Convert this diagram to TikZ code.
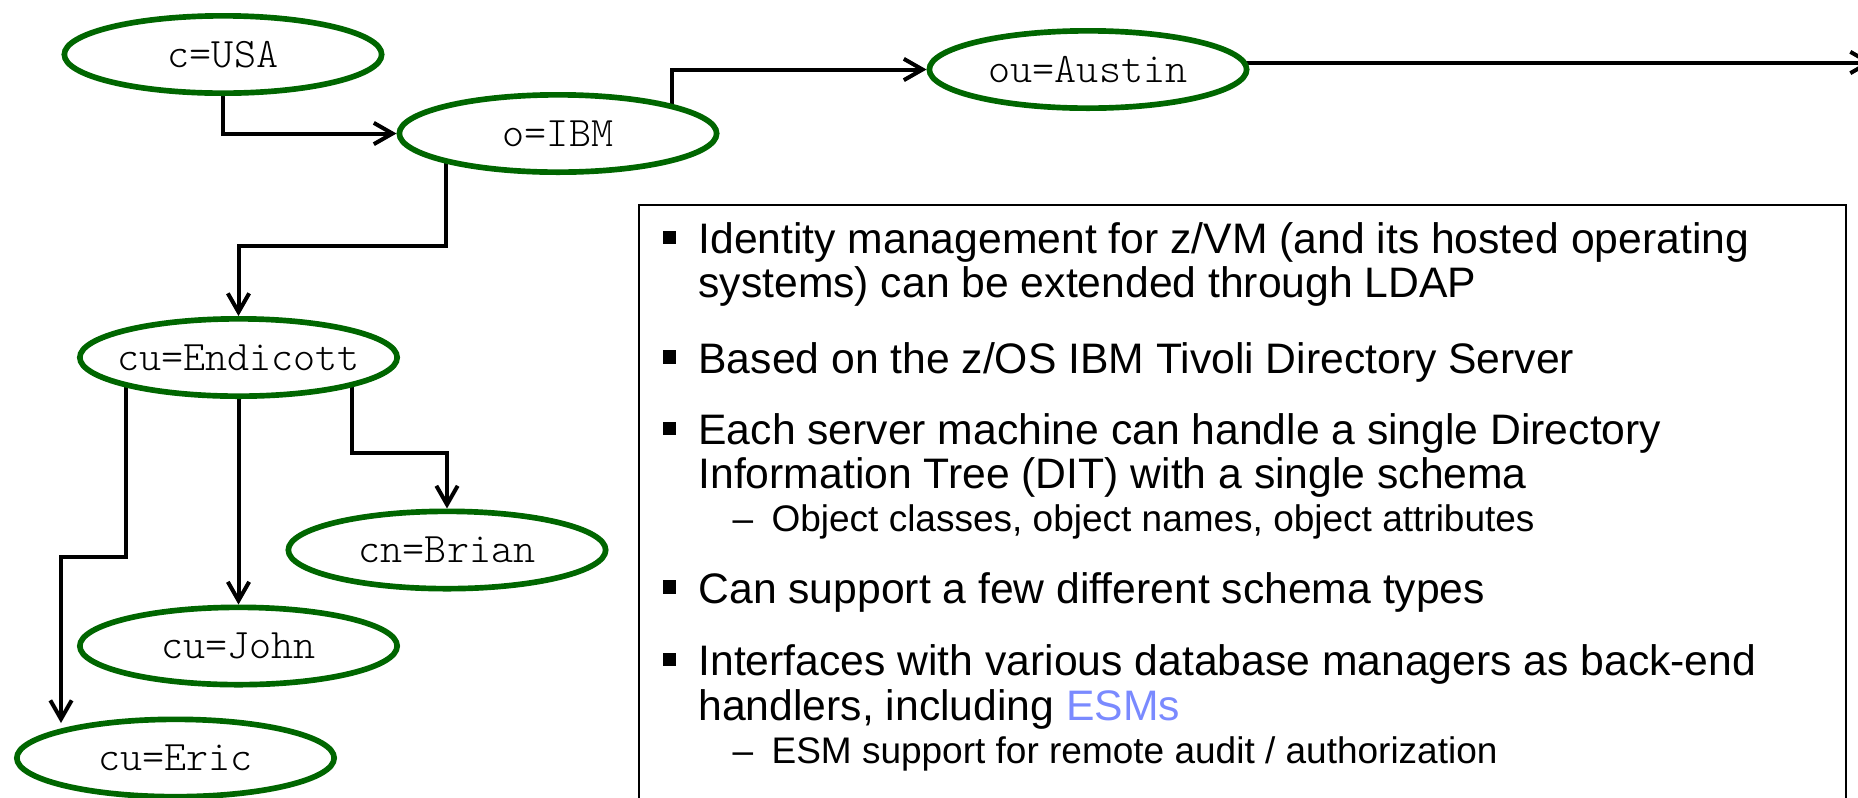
\documentclass[tikz,border=0pt]{standalone}
\usepackage{fontspec}
\setmainfont{Liberation Sans}
\newfontfamily\dnfont{Latin Modern Mono Light}
\usetikzlibrary{arrows.meta,calc,backgrounds,shapes.geometric}

\definecolor{dngreen}{RGB}{0,102,0}
\definecolor{esmblue}{RGB}{122,138,255}

\tikzset{every picture/.style={line width=0.75pt}}
\tikzset{
  dn/.style={ellipse, draw=dngreen, line width=4.25pt, fill=white, minimum width=238pt, minimum height=58pt, inner ysep=0pt, inner xsep=-40pt, font=\dnfont\fontsize{31.5}{33}\selectfont},
  link/.style={line width=3pt, -{Straight Barb[length=14pt,width=16pt]}},
  bul/.style={fill=black, inner sep=0pt, minimum size=10pt},
  item/.style={anchor=base west, inner sep=0pt, font=\fontsize{32}{38}\selectfont},
  subitem/.style={anchor=base west, inner sep=0pt, font=\fontsize{27.75}{33}\selectfont},
}

\begin{document}
\begin{tikzpicture}[x=0.75pt,y=0.75pt,yscale=-1,xscale=1]
\useasboundingbox (0,0) rectangle (1858,797);

%Directory entries
\node [dn] (usa) at (223,54.5) {c=USA};
\node [dn] (ibm) at (558,133.5) {o=IBM};
\node [dn] (aus) at (1088,69.5) {ou=Austin};
\node [dn] (endi) at (238.5,357.5) {cu=Endicott};
\node [dn] (brian) at (447,550) {cn=Brian};
\node [dn] (john) at (238.5,646) {cu=John};
\node [dn] (eric) at (175.5,758) {cu=Eric};
\coordinate (aout) at (1873,62.5);

%Connectors
\begin{scope}[on background layer]
\draw [link] (usa.south) |- (ibm.west);
\draw [link] ($(ibm)+(114,0)$) |- (aus.west);
\draw [link] ($(aus)+(0,-7)$) -- (aout);
\draw [link] ($(ibm)+(-112,0)$) -- ++(0,112.5) -| (endi.north);
\draw [link] ($(endi)+(-112.5,0)$) -- ++(0,199.5) -| ($(eric)+(-114.5,-35)$);
\draw [link] (endi.south) -- (john.north);
\draw [link] ($(endi)+(113.5,0)$) -- ++(0,95.5) -| (brian.north);
\end{scope}

%Text box
\draw [line width=1.5pt] (639,205) rectangle (1846,815);

%Bullets
\node [bul] (q1) at (669.5,237.5) {};
\node [bul] (q2) at (669.5,357) {};
\node [bul] (q3) at (669.5,428.5) {};
\node [bul] (q4) at (669.5,587) {};
\node [bul] (q5) at (669.5,659.5) {};

% Text Node
\node [item] (t1a) at (698,253.5) {Identity management for z/VM (and its hosted operating};
\node [item] (t1b) at (698,297.5) {systems) can be extended through LDAP};
% Text Node
\node [item] (t2) at (698,373) {Based on the z/OS IBM Tivoli Directory Server};
% Text Node
\node [item] (t3a) at (698,444.5) {Each server machine can handle a single Directory};
\node [item] (t3b) at (698,488.5) {Information Tree (DIT) with a single schema};
\node [subitem] (t3c) at (732,531.5) {–\enspace Object classes, object names, object attributes};
% Text Node
\node [item] (t4) at (698,603) {Can support a few different schema types};
% Text Node
\node [item] (t5a) at (698,675.5) {Interfaces with various database managers as back-end};
\node [item] (t5b) at (698,720) {handlers, including \textcolor{esmblue}{ESMs}};
\node [subitem] (t5c) at (732,763) {–\enspace ESM support for remote audit / authorization};
\end{tikzpicture}
\end{document}
